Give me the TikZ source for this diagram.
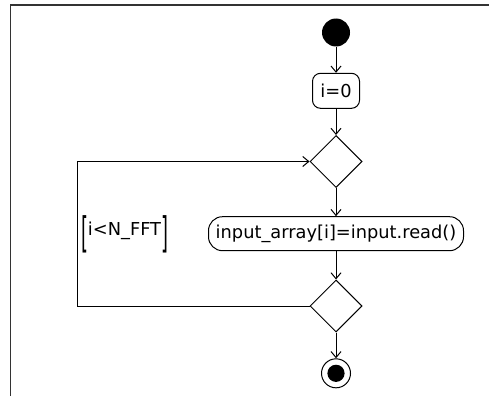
\documentclass[tikz,border=0pt]{standalone}
\usepackage{fontspec}
\setmainfont{DejaVu Sans}
\usetikzlibrary{arrows.meta,shapes.geometric}
\begin{document}
\begin{tikzpicture}[x=1pt,y=-1pt,
  every node/.style={font=\fontsize{17.8}{20}\selectfont},
  flow/.style={line width=1pt,-{Straight Barb[length=6pt,width=10pt,line width=1pt]}},
  actbox/.style={draw,line width=1pt,inner xsep=0pt,inner ysep=0pt,align=center},
  decision/.style={draw,diamond,line width=1pt,minimum width=52pt,minimum height=52pt,inner sep=0pt}
]
\useasboundingbox (0,0) rectangle (489,396);
\draw[line width=1.3pt,black!80] (10.7,396) -- (10.7,5) -- (489,5);

\node[circle,fill=black,minimum size=28pt,inner sep=0pt] (start) at (336,32.5) {};
\node[actbox,rounded corners=8pt,minimum width=47pt,minimum height=35pt] (init) at (336,90.8) {i=0};
\node[decision] (dec1) at (336,161.5) {};
\node[actbox,rounded corners=14pt,minimum width=255pt,minimum height=34pt] (act) at (336,233.7) {input\_array[i]=input.read()};
\node[decision] (dec2) at (336,306) {};
\node[circle,draw,line width=1pt,minimum size=29pt,inner sep=0pt] (end) at (336,373.3) {};
\fill (end.center) circle (8.6pt);

\coordinate (lp) at (77.3,0);
\node[anchor=base,inner sep=0pt] (guard) at (124.5,235.7) {\raisebox{-11.7pt}{\scalebox{1}[2.36]{[}}i<N\_FFT\raisebox{-11.7pt}{\scalebox{1}[2.36]{]}}};

\draw[flow] (start) -- (init);
\draw[flow] (init) -- (dec1);
\draw[flow] (dec1) -- (act);
\draw[flow] (act) -- (dec2);
\draw[flow] (dec2) -- (end);
\draw[flow] (dec2.west) -- (dec2.west -| lp) |- (dec1.west);
\end{tikzpicture}
\end{document}
